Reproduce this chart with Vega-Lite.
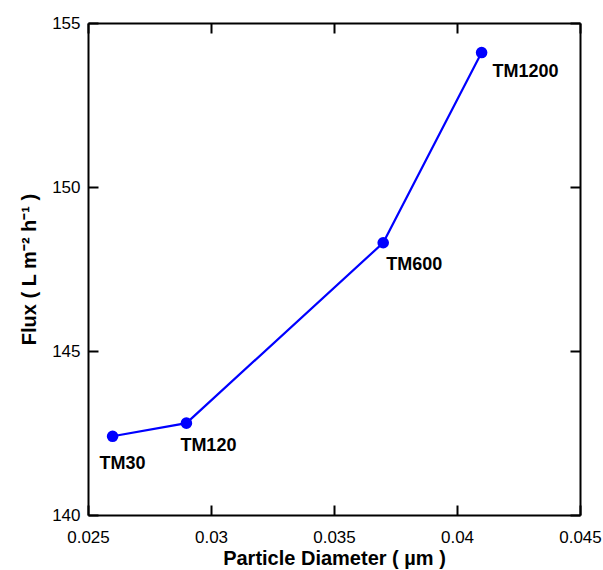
{
  "$schema": "https://vega.github.io/schema/vega-lite/v6.json",
  "width": 492,
  "height": 492,
  "autosize": {"type": "none"},
  "padding": {"left": 88, "top": 23, "right": 23, "bottom": 55},
  "config": {
    "view": {"stroke": null},
    "font": "Liberation Sans",
    "axis": {
      "grid": false,
      "domainColor": "black",
      "domainWidth": 2,
      "tickColor": "black",
      "tickWidth": 2,
      "tickSize": -10,
      "labelFont": "Liberation Sans",
      "labelFontSize": 17,
      "labelColor": "black",
      "titleFont": "Liberation Sans",
      "titleFontSize": 20,
      "titleFontWeight": "bold",
      "titleColor": "black"
    }
  },
  "data": {
    "values": [
      {"d": 0.026, "flux": 142.4, "label": "TM30"},
      {"d": 0.029, "flux": 142.8, "label": "TM120"},
      {"d": 0.037, "flux": 148.3, "label": "TM600"},
      {"d": 0.041, "flux": 154.1, "label": "TM1200"}
    ]
  },
  "resolve": {"axis": {"x": "independent", "y": "independent"}},
  "layer": [
    {
      "mark": {"type": "line", "color": "#0000ff", "strokeWidth": 2.2},
      "encoding": {
        "x": {
          "field": "d", "type": "quantitative",
          "scale": {"domain": [0.025, 0.045], "nice": false, "zero": false},
          "axis": {
            "orient": "bottom",
            "values": [0.025, 0.03, 0.035, 0.04, 0.045],
            "format": "~g",
            "labelPadding": 24,
            "labelFlush": false,
            "labelOverlap": false,
            "title": "Particle Diameter ( µm )",
            "titlePadding": 3
          }
        },
        "y": {
          "field": "flux", "type": "quantitative",
          "scale": {"domain": [140, 155], "nice": false, "zero": false},
          "axis": {
            "orient": "left",
            "values": [140, 145, 150, 155],
            "labelPadding": 18,
            "labelFlush": false,
            "labelOverlap": false,
            "title": "Flux ( L m⁻² h⁻¹ )",
            "titlePadding": 12
          }
        }
      }
    },
    {
      "mark": {"type": "point", "filled": true, "color": "#0000ff", "opacity": 1, "size": 135},
      "encoding": {
        "x": {
          "field": "d", "type": "quantitative",
          "axis": {"orient": "top", "values": [0.025, 0.03, 0.035, 0.04, 0.045], "labels": false, "title": null}
        },
        "y": {
          "field": "flux", "type": "quantitative",
          "axis": {"orient": "right", "values": [140, 145, 150, 155], "labels": false, "title": null}
        }
      }
    },
    {
      "transform": [{"filter": "datum.label === 'TM30'"}],
      "mark": {"type": "text", "fontWeight": "bold", "fontSize": 18, "dx": 10, "dy": 28, "align": "center", "baseline": "middle"},
      "encoding": {
        "x": {"field": "d", "type": "quantitative", "axis": null},
        "y": {"field": "flux", "type": "quantitative", "axis": null},
        "text": {"field": "label"}
      }
    },
    {
      "transform": [{"filter": "datum.label === 'TM120'"}],
      "mark": {"type": "text", "fontWeight": "bold", "fontSize": 18, "dx": 22, "dy": 23, "align": "center", "baseline": "middle"},
      "encoding": {
        "x": {"field": "d", "type": "quantitative", "axis": null},
        "y": {"field": "flux", "type": "quantitative", "axis": null},
        "text": {"field": "label"}
      }
    },
    {
      "transform": [{"filter": "datum.label === 'TM600'"}],
      "mark": {"type": "text", "fontWeight": "bold", "fontSize": 18, "dx": 31, "dy": 22, "align": "center", "baseline": "middle"},
      "encoding": {
        "x": {"field": "d", "type": "quantitative", "axis": null},
        "y": {"field": "flux", "type": "quantitative", "axis": null},
        "text": {"field": "label"}
      }
    },
    {
      "transform": [{"filter": "datum.label === 'TM1200'"}],
      "mark": {"type": "text", "fontWeight": "bold", "fontSize": 18, "dx": 44, "dy": 19, "align": "center", "baseline": "middle"},
      "encoding": {
        "x": {"field": "d", "type": "quantitative", "axis": null},
        "y": {"field": "flux", "type": "quantitative", "axis": null},
        "text": {"field": "label"}
      }
    }
  ]
}
